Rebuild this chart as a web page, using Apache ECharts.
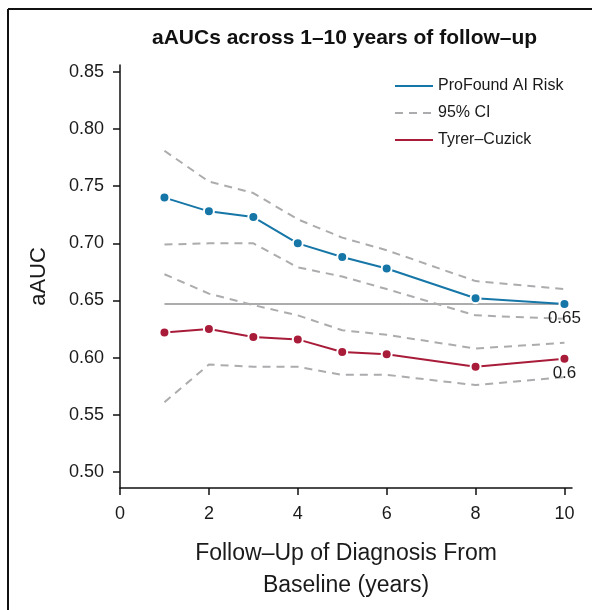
<!DOCTYPE html>
<html>
<head>
<meta charset="utf-8">
<script src="https://cdn.jsdelivr.net/npm/echarts@6/dist/echarts.min.js"></script>
<style>
  html, body { margin: 0; padding: 0; background: #fff; }
  #chart { width: 592px; height: 610px; }
</style>
</head>
<body>
<div id="chart"></div>
<script>
  // years of follow-up
  var years = [1, 2, 3, 4, 5, 6, 8, 10];
  // ProFound AI Risk aAUC + 95% CI
  var pfAuc   = [0.740, 0.728, 0.723, 0.700, 0.688, 0.678, 0.652, 0.647];
  var pfUpper = [0.781, 0.754, 0.744, 0.721, 0.705, 0.694, 0.667, 0.660];
  var pfLower = [0.699, 0.700, 0.700, 0.679, 0.671, 0.660, 0.637, 0.634];
  // Tyrer-Cuzick aAUC + 95% CI
  var tcAuc   = [0.622, 0.625, 0.618, 0.616, 0.605, 0.603, 0.592, 0.599];
  var tcUpper = [0.673, 0.656, 0.646, 0.637, 0.624, 0.620, 0.608, 0.613];
  var tcLower = [0.561, 0.594, 0.592, 0.592, 0.585, 0.585, 0.576, 0.583];
  // tick labels
  var xTicks = [0, 2, 4, 6, 8, 10];
  var yTicks = [0.50, 0.55, 0.60, 0.65, 0.70, 0.75, 0.80, 0.85];

  var FONT = 'Liberation Sans';
  var BLUE = '#1576a7';
  var RED = '#a81c3a';
  var GREY = '#acacae';

  function pairs(vals, lastLabel) {
    return vals.map(function (v, i) {
      var item = { value: [years[i], v] };
      if (lastLabel && i === vals.length - 1) {
        item.label = { show: true };
      }
      return item;
    });
  }

  function ciSeries(vals) {
    return {
      name: '95% CI',
      type: 'line',
      data: pairs(vals),
      symbol: 'none',
      z: 1,
      lineStyle: { color: GREY, width: 2, type: [8, 6] },
      itemStyle: { color: GREY }
    };
  }

  function mainSeries(name, vals, color) {
    return {
      name: name,
      type: 'line',
      data: pairs(vals, true),
      symbol: 'circle',
      symbolSize: 10,
      z: 3,
      lineStyle: { color: color, width: 2 },
      itemStyle: { color: color, borderColor: '#fff', borderWidth: 2 },
      label: {
        show: false,
        position: 'bottom',
        distance: 0,
        fontFamily: FONT,
        fontSize: 17,
        color: '#1a1a1a',
        formatter: function (p) { return String(+p.value[1].toFixed(2)); }
      }
    };
  }

  var lastPf = pfAuc[pfAuc.length - 1];

  var option = {
    animation: false,
    backgroundColor: '#fff',
    textStyle: { fontFamily: FONT },
    title: {
      text: 'aAUCs across 1\u201310 years of follow\u2013up',
      left: 147,
      top: 23,
      textStyle: { fontFamily: FONT, fontSize: 21, fontWeight: 'bold', color: '#111' }
    },
    legend: {
      orient: 'vertical',
      left: 389,
      top: 73,
      itemWidth: 38,
      itemHeight: 14,
      itemGap: 11,
      itemStyle: { opacity: 0 },
      textStyle: { fontFamily: FONT, fontSize: 16, color: '#1a1a1a' },
      data: ['ProFound AI Risk', '95% CI', 'Tyrer\u2013Cuzick']
    },
    grid: { left: 120, right: 20, top: 65, bottom: 122 },
    xAxis: {
      type: 'value',
      min: 0,
      max: 10.17,
      name: 'Follow\u2013Up of Diagnosis From\nBaseline (years)',
      nameLocation: 'middle',
      nameGap: 50,
      nameTextStyle: { fontFamily: FONT, fontSize: 23, lineHeight: 32, color: '#1a1a1a' },
      axisLine: { lineStyle: { color: '#111', width: 1.5 } },
      axisTick: { length: 7, lineStyle: { color: '#111', width: 1.5 }, customValues: xTicks },
      axisLabel: { customValues: xTicks, margin: 17, fontFamily: FONT, fontSize: 18, color: '#1a1a1a' },
      splitLine: { show: false }
    },
    yAxis: {
      type: 'value',
      min: 0.486,
      max: 0.856,
      name: 'aAUC',
      nameLocation: 'middle',
      nameGap: 70,
      nameTextStyle: { fontFamily: FONT, fontSize: 22, color: '#1a1a1a' },
      axisLine: { show: true, lineStyle: { color: '#111', width: 1.5 } },
      axisTick: { show: true, length: 7, lineStyle: { color: '#111', width: 1.5 }, customValues: yTicks },
      axisLabel: {
        customValues: yTicks,
        margin: 16,
        fontFamily: FONT,
        fontSize: 18,
        color: '#1a1a1a',
        formatter: function (v) { return v.toFixed(2); }
      },
      splitLine: { show: false }
    },
    graphic: [
      { type: 'line', shape: { x1: 8, y1: 9, x2: 592, y2: 9 }, style: { stroke: '#111', lineWidth: 2 } },
      { type: 'line', shape: { x1: 8, y1: 9, x2: 8, y2: 610 }, style: { stroke: '#111', lineWidth: 2 } }
    ],
    series: [
      ciSeries(pfUpper),
      ciSeries(pfLower),
      ciSeries(tcUpper),
      ciSeries(tcLower),
      {
        name: 'ref',
        type: 'line',
        data: [[years[0], lastPf], [years[years.length - 1], lastPf]],
        symbol: 'none',
        z: 2,
        silent: true,
        lineStyle: { color: GREY, width: 2 }
      },
      mainSeries('ProFound AI Risk', pfAuc, BLUE),
      mainSeries('Tyrer\u2013Cuzick', tcAuc, RED)
    ]
  };

  var chart = echarts.init(document.getElementById('chart'));
  chart.setOption(option);
</script>
</body>
</html>
